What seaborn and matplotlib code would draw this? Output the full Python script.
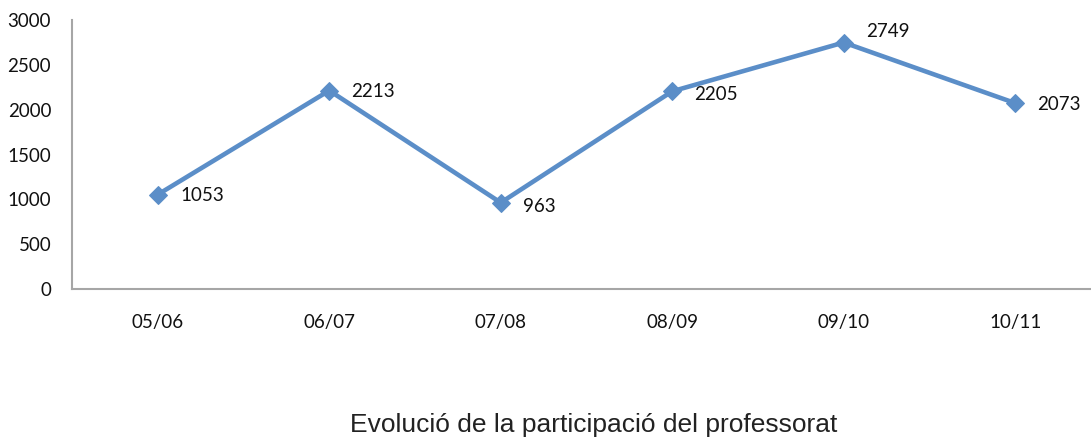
import matplotlib.pyplot as plt
import seaborn as sns
import pandas as pd

cursos = ['05/06', '06/07', '07/08', '08/09', '09/10', '10/11']
participants = [1053, 2213, 963, 2205, 2749, 2073]
# desplaçament vertical de cada etiqueta (punts)
desp_y = [-1, -1, -3, -2, 8, -1]

df = pd.DataFrame({'curs': cursos, 'participants': participants})

sns.set_style('white')
plt.rcParams['font.family'] = ['Lato', 'DejaVu Sans']

fig = plt.figure(figsize=(10.91, 4.41), dpi=100)
ax = fig.add_axes([72 / 1091, 152 / 441, 1029 / 1091, 269 / 441])

sns.lineplot(data=df, x='curs', y='participants', ax=ax, sort=False,
             color='#5b8ec8', linewidth=3.3, marker='D', markersize=9,
             markeredgecolor='#5b8ec8')

for i, (v, dy) in enumerate(zip(participants, desp_y)):
    ax.annotate(str(v), (i, v), xytext=(16, dy), textcoords='offset points',
                ha='left', va='center', fontsize=13.5, color='#111111')

ax.set_xlim(-0.5, 5.5)
ax.set_ylim(0, 3000)
ax.set_yticks(range(0, 3001, 500))
ax.set_xticks(range(len(cursos)))
ax.set_xticklabels(cursos)
ax.set_xticks([k - 0.5 for k in range(len(cursos) + 1)], minor=True)
ax.tick_params(axis='x', which='major', length=0, pad=18, labelsize=13.5, labelcolor='#111111')
ax.tick_params(axis='x', which='minor', length=5, color='#a6a6a6', width=1.2, direction='out')
ax.tick_params(axis='y', length=6, color='#a6a6a6', width=1.2, direction='out',
               labelsize=13.5, labelcolor='#111111', pad=9)
ax.set_xlabel('')
ax.set_ylabel('')

for s in ['top', 'right']:
    ax.spines[s].set_visible(False)
for s in ['left', 'bottom']:
    ax.spines[s].set_color('#a6a6a6')
    ax.spines[s].set_linewidth(1.5)

fig.text(594 / 1091, 1 - 425 / 441, 'Evolució de la participació del professorat',
         ha='center', va='center', fontsize=19, family='Liberation Sans', color='#222222')

plt.savefig('out.png', dpi=100)
